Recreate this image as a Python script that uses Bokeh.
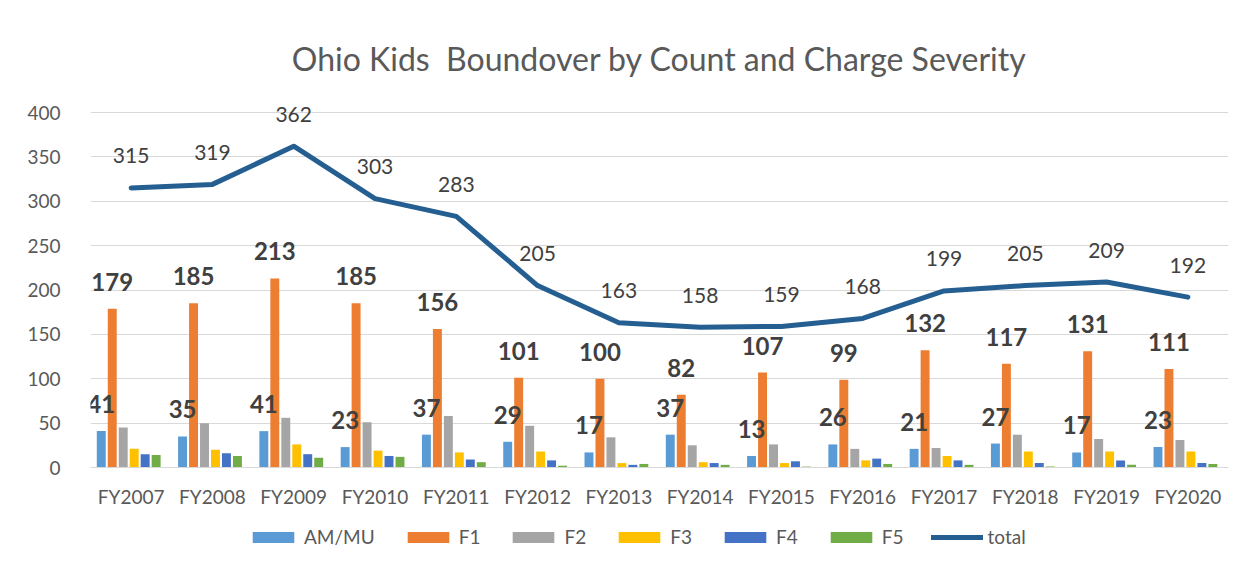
from bokeh.plotting import figure
from bokeh.models import (ColumnDataSource, FactorRange, Range1d, Legend,
                          LegendItem, LabelSet)
from bokeh.transform import dodge
from bokeh.core.properties import value
from bokeh.embed import file_html
from bokeh.resources import INLINE

years = ["FY2007", "FY2008", "FY2009", "FY2010", "FY2011", "FY2012", "FY2013",
         "FY2014", "FY2015", "FY2016", "FY2017", "FY2018", "FY2019", "FY2020"]
am_mu = [41, 35, 41, 23, 37, 29, 17, 37, 13, 26, 21, 27, 17, 23]
f1 = [179, 185, 213, 185, 156, 101, 100, 82, 107, 99, 132, 117, 131, 111]
f2 = [45, 50, 56, 51, 58, 47, 34, 25, 26, 21, 22, 37, 32, 31]
f3 = [21, 20, 26, 19, 17, 18, 5, 6, 5, 8, 13, 18, 18, 18]
f4 = [15, 16, 15, 13, 9, 8, 3, 5, 7, 10, 8, 5, 8, 5]
f5 = [14, 13, 11, 12, 6, 2, 4, 3, 1, 4, 3, 1, 3, 4]
total = [315, 319, 362, 303, 283, 205, 163, 158, 159, 168, 199, 205, 209, 192]
y_ticks = [0, 50, 100, 150, 200, 250, 300, 350, 400]

series_names = ["AM/MU", "F1", "F2", "F3", "F4", "F5"]
colors = ["#5B9BD5", "#ED7D31", "#A5A5A5", "#FFC000", "#4472C4", "#70AD47"]
line_color = "#255E91"
FONT = "Lato"

src = ColumnDataSource(dict(
    year=years, am=am_mu, f1=f1, f2=f2, f3=f3, f4=f4, f5=f5, total=total,
    am_lbl=[str(v) for v in am_mu], f1_lbl=[str(v) for v in f1],
    tot_lbl=[str(v) for v in total],
))
cols = ["am", "f1", "f2", "f3", "f4", "f5"]

# frame geometry: value 0 sits at y=467, 400 at y=112 (page pixels)
PX_PER_UNIT = 355 / 400
EXTRA_TOP = 35        # room above the 400 line for the "362" label
EXTRA_BOTTOM = 81     # room below 0 for category labels and legend
p = figure(x_range=FactorRange(*years),
           y_range=Range1d(-EXTRA_BOTTOM / PX_PER_UNIT,
                           400 + EXTRA_TOP / PX_PER_UNIT),
           frame_width=1138, frame_height=355 + EXTRA_TOP + EXTRA_BOTTOM,
           output_backend="svg", toolbar_location=None,
           min_border_left=90, min_border_right=20,
           min_border_top=112 - EXTRA_TOP, min_border_bottom=0)

p.title.text = "Ohio Kids \u00a0Boundover by Count and Charge Severity"
p.title.align = "center"
p.title.text_font = FONT
p.title.text_font_size = "32px"
p.title.text_font_style = "normal"
p.title.text_color = "#595959"
p.title.standoff = 0
p.title.offset = -25

pitch = 0.135
bw = 0.11
renderers = []
for i, (c, col) in enumerate(zip(cols, colors)):
    off = (i - 2.5) * pitch - 0.03
    r = p.vbar(x=dodge("year", off, range=p.x_range), top=c, bottom=0, width=bw,
               source=src, fill_color=col, line_color=None)
    renderers.append(r)

lr = p.line(x="year", y="total", source=src, line_color=line_color,
            line_width=5, line_cap="round", line_join="round")

# data labels
p.text(x=dodge("year", -2.5 * pitch - 0.03, range=p.x_range), y="am", text="am_lbl",
       source=src, text_font=value(FONT), text_font_size="24px",
       text_font_style="bold", text_color="#404040", text_align="center",
       text_baseline="middle", y_offset=-27)
p.text(x=dodge("year", -1.5 * pitch - 0.03, range=p.x_range), y="f1", text="f1_lbl",
       source=src, text_font=value(FONT), text_font_size="24px",
       text_font_style="bold", text_color="#404040", text_align="center",
       text_baseline="middle", y_offset=-27)
tot_labels = LabelSet(x="year", y="total", text="tot_lbl", source=src,
                      text_font=value(FONT), text_font_size=value("21px"),
                      text_color="#404040", text_align="center",
                      text_baseline="middle", y_offset=32)
p.add_layout(tot_labels)

# axes
p.yaxis.ticker = y_ticks
p.yaxis.axis_line_color = None
p.yaxis.major_tick_line_color = None
p.yaxis.minor_tick_line_color = None
p.yaxis.major_label_text_font = FONT
p.yaxis.major_label_text_font_size = "19px"
p.yaxis.major_label_text_color = "#595959"
p.yaxis.major_label_standoff = 24

p.xaxis.fixed_location = 0
p.xaxis.axis_line_color = "#D9D9D9"
p.xaxis.axis_line_width = 1
p.xaxis.major_tick_line_color = None
p.xaxis.minor_tick_line_color = None
p.xaxis.major_label_text_font = FONT
p.xaxis.major_label_text_font_size = "19px"
p.xaxis.major_label_text_color = "#595959"
p.xaxis.major_label_standoff = 11

p.xgrid.grid_line_color = None
p.ygrid.grid_line_color = "#D9D9D9"
p.ygrid.grid_line_width = 1
p.outline_line_color = None
p.x_range.range_padding = 0
p.x_range.group_padding = 0

items = [LegendItem(label=n, renderers=[r]) for n, r in zip(series_names, renderers)]
items.append(LegendItem(label="total", renderers=[lr]))
legend = Legend(items=items, orientation="horizontal", location=(157, 0),
                border_line_alpha=0, background_fill_alpha=0,
                glyph_width=52, glyph_height=14, spacing=27, label_standoff=5,
                label_text_font=FONT, label_text_font_size="19px",
                label_text_color="#595959", margin=0, padding=0)
p.add_layout(legend)

open("out.html", "w").write(file_html(p, INLINE))
